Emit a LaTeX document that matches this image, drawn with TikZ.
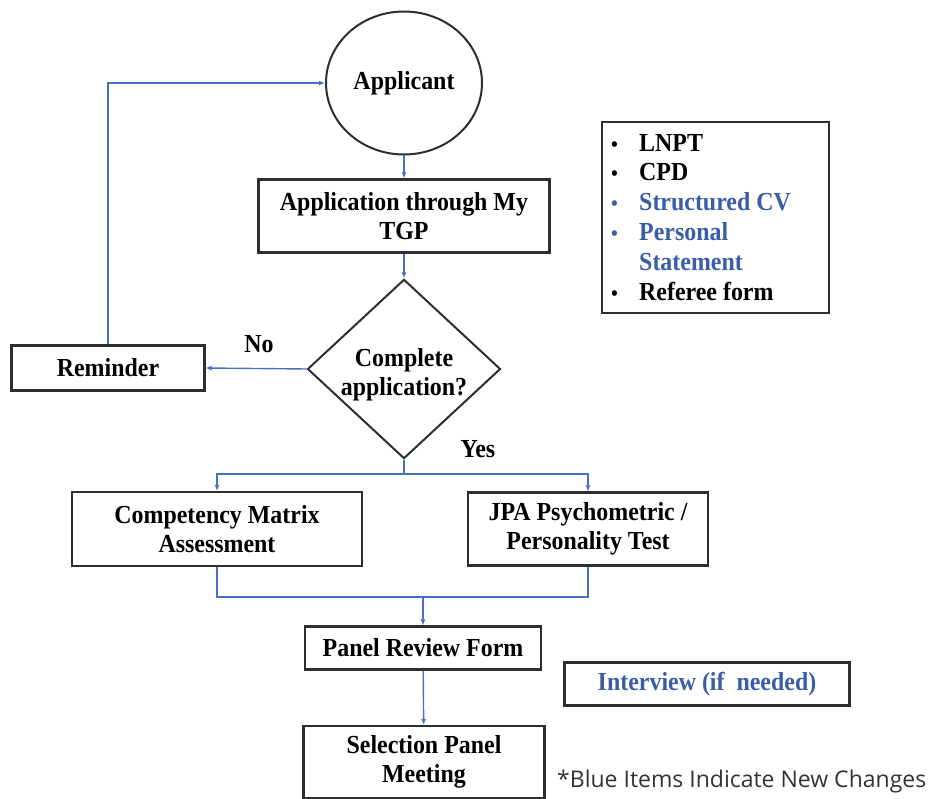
\documentclass[tikz,border=0pt]{standalone}
\usepackage{fontspec}
\setmainfont{Liberation Serif}[FakeStretch=0.92]
\newfontfamily\notefont{Open Sans}
\usetikzlibrary{arrows.meta,shapes.geometric}
\definecolor{linkblue}{HTML}{4472C4}
\definecolor{textblue}{HTML}{3A5DA8}
\definecolor{edge}{HTML}{2E2E2E}
\newcommand{\bulletmark}{\makebox[28pt][l]{\fontsize{21}{21}\selectfont•}}
\begin{document}
\begin{tikzpicture}[x=1pt,y=-1pt,
  lbl/.style={font=\bfseries\fontsize{26}{29}\selectfont, align=center, inner sep=0pt},
  box/.style={lbl, draw=edge, line width=2.1pt, rectangle, fill=white},
  flow/.style={draw=linkblue, line width=1.4pt, -{Latex[length=6pt,width=5pt]}},
  link/.style={draw=linkblue, line width=1.4pt},
  item/.style={font=\bfseries\fontsize{26}{29}\selectfont, anchor=west, inner sep=0pt}]
\useasboundingbox (0,0) rectangle (931,799);

\node[lbl, ellipse, draw=edge, line width=2pt, minimum width=156pt, minimum height=143pt] (appl) at (404,83) {Applicant};
\node[box, minimum width=291pt, minimum height=73pt] (app) at (404,216) {Application through My\\TGP};
\node[lbl, diamond, draw=edge, line width=2pt, minimum width=193pt, minimum height=172pt] (dec) at (404,369) {\rule{0pt}{24pt}Complete\\\raisebox{0pt}[\height][0pt]{application?}};
\node[box, minimum width=193pt, minimum height=45pt] (rem) at (108,368) {Reminder};
\node[box, minimum width=290pt, minimum height=74pt] (comp) at (217,529) {Competency Matrix\\Assessment};
\node[box, minimum width=240pt, minimum height=73pt] (jpa) at (588,529) {JPA Psychometric /\\Personality Test};
\node[box, minimum width=236pt, minimum height=43pt] (panel) at (423,648) {Panel Review Form};
\node[box, minimum width=285pt, minimum height=43pt, text=textblue] (interview) at (707,684) {Interview (if~ needed)};
\node[box, minimum width=241pt, minimum height=72pt] (sel) at (424,762) {Selection Panel\\Meeting};

\node[lbl] (no) at (259,344) {No};
\node[lbl] (yes) at (478,449) {Yes};

% legend
\node[box, minimum width=227pt, minimum height=191pt] (legend) at (715.5,217.5) {};
\node[item] (i1) at (611,143) {\bulletmark LNPT};
\node[item] (i2) at (611,172) {\bulletmark CPD};
\node[item, text=textblue] (i3) at (611,202) {\bulletmark Structured CV};
\node[item, text=textblue] (i4) at (611,232) {\bulletmark Personal};
\node[item, text=textblue] (i5) at (639,262) {Statement};
\node[item] (i6) at (611,291) {\bulletmark Referee form};

\node[anchor=west, inner sep=0pt, font=\notefont\fontsize{23}{26}\selectfont, text=black!80] (note) at (557,782) {*Blue Items Indicate New Changes};

% connectors
\coordinate (split) at (404,474);
\coordinate (join) at (423,597);
\draw[flow] (appl) -- (app);
\draw[flow] (app) -- (dec);
\draw[flow] (dec.west) -- (rem.east);
\draw[flow] (rem.north) |- (appl.west);
\draw[link] (dec.south) -- (split);
\draw[flow] (split) -| (comp.north);
\draw[flow] (split) -| (jpa.north);
\draw[link] (comp.south) |- (join);
\draw[link] (jpa.south) |- (join);
\draw[flow] (join) -- (panel.north);
\draw[flow] (panel) -- (sel);
\end{tikzpicture}
\end{document}
